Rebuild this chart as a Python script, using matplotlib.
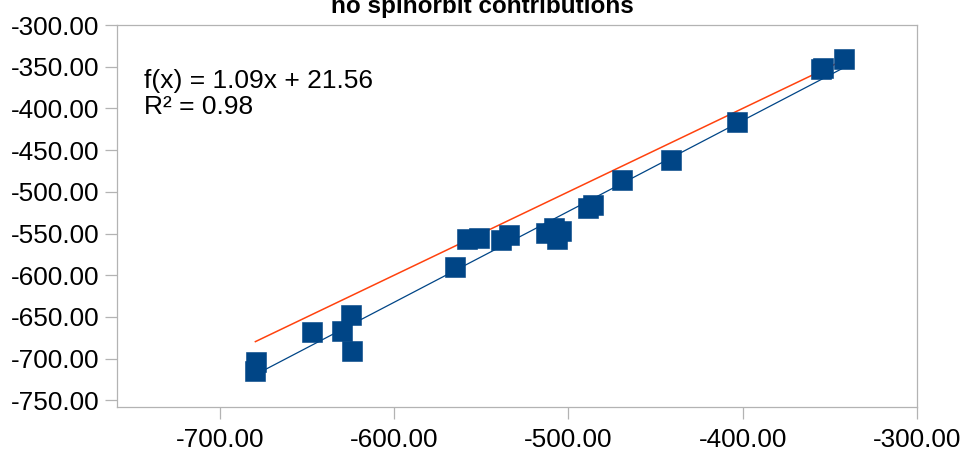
"""Scatter of computed vs reference values, no spinorbit contributions."""

import matplotlib

matplotlib.use("Agg")
import matplotlib.pyplot as plt
import numpy as np
from matplotlib.ticker import FormatStrFormatter, MultipleLocator

FONT = ["Liberation Sans", "DejaVu Sans"]
SERIES_BLUE = "#004586"
REF_RED = "#ff420e"
AXIS_GREY = "#b3b3b3"

TITLE = "no spinorbit contributions"
FIT_TEXT = "f(x) = 1.09x + 21.56\nR² = 0.98"
FIT_SLOPE = 1.09
FIT_INTERCEPT = 21.56

x_vals = [
    -679.2, -679.6, -647.1, -630.0, -624.8, -624.1,
    -564.8, -558.1, -551.2, -538.4, -534.3,
    -512.7, -508.0, -506.6, -504.1,
    -488.5, -485.6, -469.4, -441.2, -403.2,
    -355.0, -353.7, -342.0,
]
y_vals = [
    -703.6, -714.4, -668.4, -666.4, -648.0, -691.2,
    -589.6, -556.8, -555.6, -557.2, -551.2,
    -549.6, -543.6, -557.0, -546.6,
    -519.2, -515.6, -486.4, -461.6, -416.4,
    -352.4, -351.6, -340.4,
]


def main() -> None:
    plt.rcParams.update({"font.family": FONT})

    x = np.asarray(x_vals)
    y = np.asarray(y_vals)
    x_line = np.array([x.min(), x.max()])

    fig = plt.figure(figsize=(9.63, 4.53), dpi=100)
    ax = fig.add_axes([0.1215, 0.1015, 0.8307, 0.8433])

    # y = x reference, then the fitted trend line, markers on top
    ax.plot(x_line, x_line, color=REF_RED, linewidth=1.1, zorder=2)
    ax.plot(x_line, FIT_SLOPE * x_line + FIT_INTERCEPT, color=SERIES_BLUE,
            linewidth=0.9, zorder=2)
    ax.plot(x, y, linestyle="none", marker="s", markersize=13.8,
            markerfacecolor=SERIES_BLUE, markeredgecolor=SERIES_BLUE,
            markeredgewidth=0.4, zorder=3)

    ax.set_xlim(-759, -300)
    ax.set_ylim(-758, -300)
    ax.xaxis.set_major_locator(MultipleLocator(100))
    ax.yaxis.set_major_locator(MultipleLocator(50))
    ax.xaxis.set_major_formatter(FormatStrFormatter("%.2f"))
    ax.yaxis.set_major_formatter(FormatStrFormatter("%.2f"))
    ax.tick_params(axis="both", direction="out", length=8.5, width=0.9,
                   color=AXIS_GREY, labelsize=18.8, labelcolor="black")
    ax.tick_params(axis="x", pad=6.5)
    ax.tick_params(axis="y", pad=4)
    for spine in ax.spines.values():
        spine.set_color(AXIS_GREY)
        spine.set_linewidth(0.9)

    ax.text(0.034, 0.885, FIT_TEXT, transform=ax.transAxes, ha="left",
            va="top", fontsize=19, linespacing=1.1, color="black")

    fig.text(482 / 963, 1 - 13 / 453, TITLE, ha="center", va="baseline",
             fontsize=17.5, fontweight="bold", color="black")

    fig.savefig("out.png", dpi=100)
    plt.close(fig)


if __name__ == "__main__":
    main()
